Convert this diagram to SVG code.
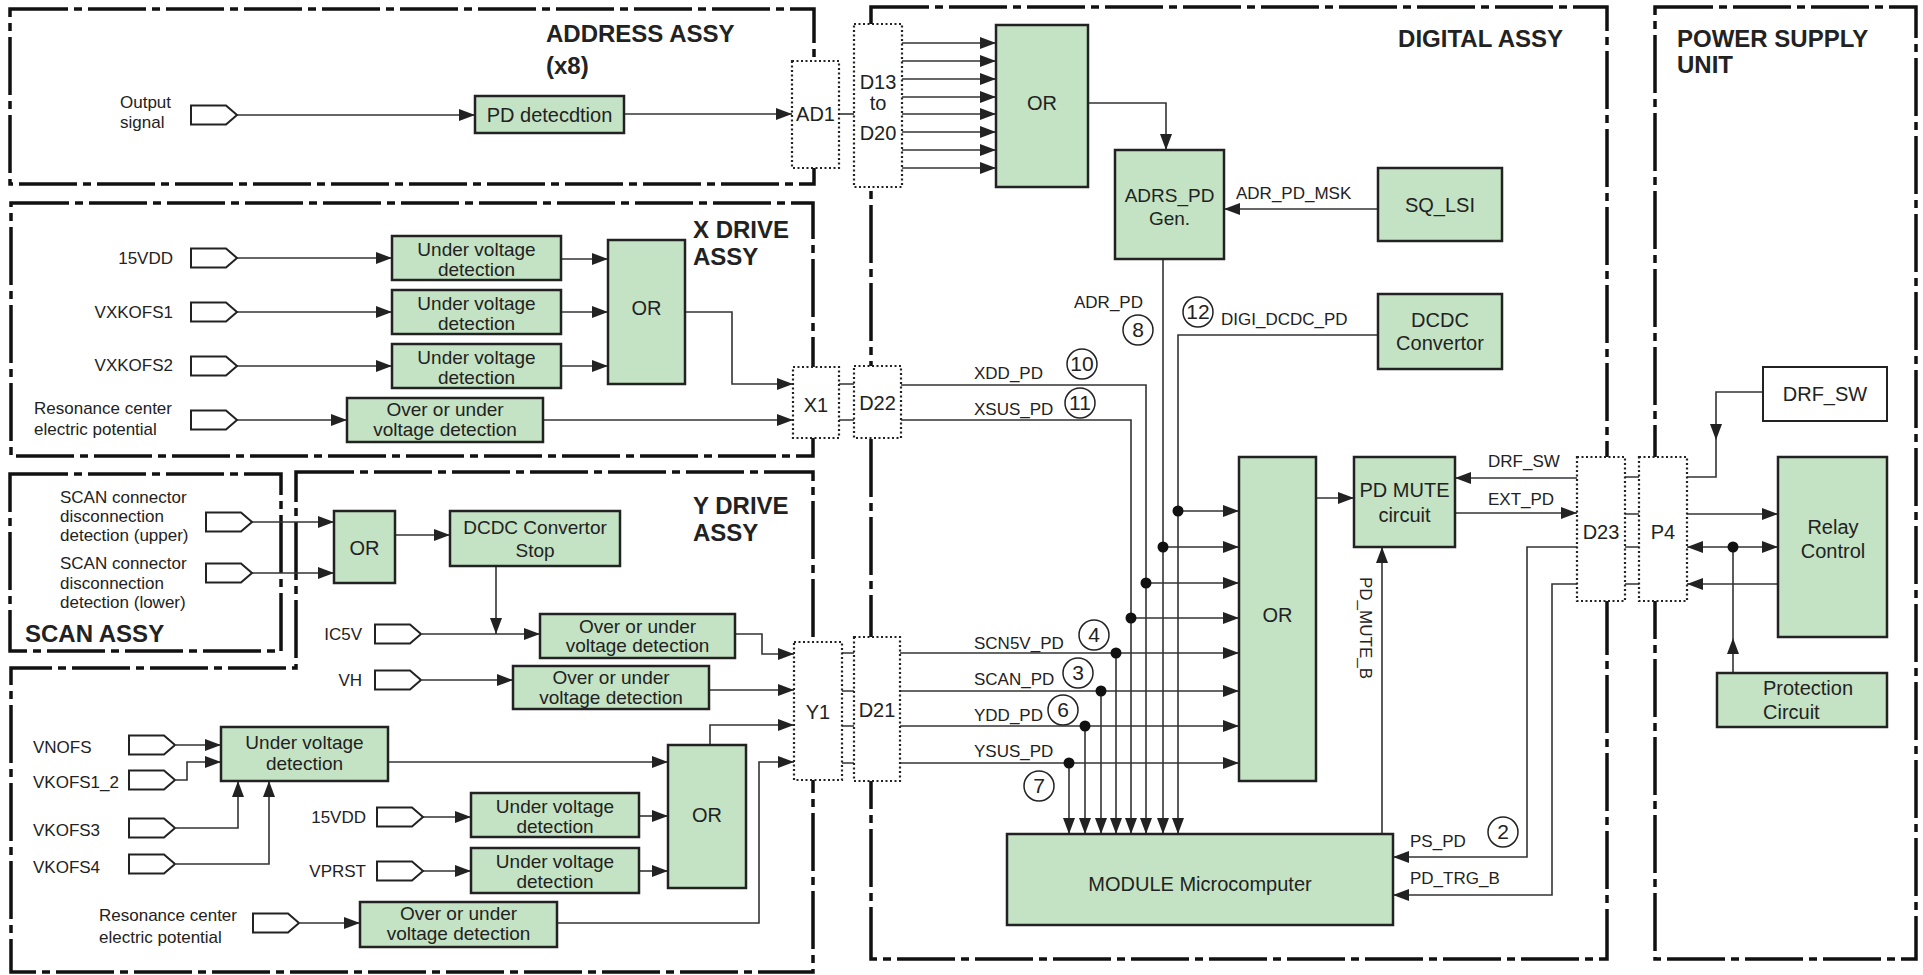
<svg xmlns="http://www.w3.org/2000/svg" xmlns:xlink="http://www.w3.org/1999/xlink" width="1923" height="975" viewBox="0 0 1923 975">
<style>
text{font-family:"Liberation Sans",Arial,sans-serif;fill:#222}
.t{font-size:17px}
.b{font-size:19px;text-anchor:middle}
.c{font-size:20px;text-anchor:middle}
.s{font-size:20px;text-anchor:start}
.e{text-anchor:end}
.h{font-size:24px;font-weight:bold}
.n{font-size:21px;text-anchor:middle}
.box{fill:#c4e2c4;stroke:#222;stroke-width:2.5}
.wbox{fill:#fff;stroke:#222;stroke-width:2}
.frame{fill:none;stroke:#111;stroke-width:3.5;stroke-dasharray:58 6 8 6}
.cb{fill:#fff;stroke:#222;stroke-width:2.2;stroke-dasharray:2 2.5}
.w{fill:none;stroke:#333;stroke-width:1.6}
.a{marker-end:url(#ah)}
.ci{fill:#fff;stroke:#222;stroke-width:1.5}
.dot{fill:#111}
.conn{fill:#fff;stroke:#222;stroke-width:2}
</style>
<defs>
<marker id="ah" markerUnits="userSpaceOnUse" markerWidth="16" markerHeight="12" refX="16" refY="6" orient="auto-start-reverse"><path d="M0,0 L16,6 L0,12 Z" fill="#222"/></marker>
<path id="pc" class="conn" d="M0,-9.5 H35 L46,0 L35,9.5 H0 Z"/>
</defs>
<rect width="1923" height="975" fill="#fff"/>

<g id="frames">
<rect class="frame" x="10" y="9" width="804" height="175"/>
<rect class="frame" x="11" y="203" width="802" height="253"/>
<rect class="frame" x="10" y="474" width="271" height="177"/>
<path class="frame" d="M296,472 H813 V972 H11 V668 H296 Z"/>
<rect class="frame" x="871" y="7" width="736" height="952"/>
<rect class="frame" x="1655" y="7" width="261" height="952"/>
<text class="h" x="546" y="42">ADDRESS ASSY</text>
<text class="h" x="546" y="74">(x8)</text>
<text class="h" x="693" y="238">X DRIVE</text>
<text class="h" x="693" y="265">ASSY</text>
<text class="h" x="693" y="514">Y DRIVE</text>
<text class="h" x="693" y="541">ASSY</text>
<text class="h" x="25" y="642">SCAN ASSY</text>
<text class="h e" x="1563" y="47">DIGITAL ASSY</text>
<text class="h" x="1677" y="47">POWER SUPPLY</text>
<text class="h" x="1677" y="73">UNIT</text>
</g>

<g id="connectors">
<path class="w a" d="M237,115 H475"/>
<path class="w a" d="M624,114 H792"/>
<path class="w" d="M839,114 H854"/>
<path class="w a" d="M902,43 H996"/>
<path class="w a" d="M902,61 H996"/>
<path class="w a" d="M902,79 H996"/>
<path class="w a" d="M902,97 H996"/>
<path class="w a" d="M902,114 H996"/>
<path class="w a" d="M902,132 H996"/>
<path class="w a" d="M902,150 H996"/>
<path class="w a" d="M902,168 H996"/>
<path class="w a" d="M1088,103 H1166 V150"/>
<path class="w a" d="M1378,209 H1224"/>
<path class="w a" d="M237,258 H392"/>
<path class="w a" d="M237,312 H392"/>
<path class="w a" d="M237,366 H392"/>
<path class="w a" d="M237,420 H347"/>
<path class="w a" d="M561,259 H608"/>
<path class="w a" d="M561,312 H608"/>
<path class="w a" d="M561,366 H608"/>
<path class="w a" d="M685,312 H732 V384 H793"/>
<path class="w a" d="M543,420 H793"/>
<path class="w" d="M839,384 H854 M839,420 H854"/>
<path class="w a" d="M252,522 H334"/>
<path class="w a" d="M252,573 H334"/>
<path class="w a" d="M395,535 H450"/>
<path class="w a" d="M496,566 V634"/>
<path class="w a" d="M422,634 H540"/>
<path class="w a" d="M735,634 H762 V654 H794"/>
<path class="w a" d="M422,680 H513"/>
<path class="w a" d="M709,690 H794"/>
<path class="w a" d="M176,745 H221"/>
<path class="w a" d="M176,780 H187 V762 H221"/>
<path class="w a" d="M176,828 H238 V781"/>
<path class="w a" d="M176,864 H269 V781"/>
<path class="w a" d="M388,762 H668"/>
<path class="w a" d="M710,745 V725 H794"/>
<path class="w a" d="M423,817 H471"/>
<path class="w a" d="M639,816 H668"/>
<path class="w a" d="M423,871 H471"/>
<path class="w a" d="M639,871 H668"/>
<path class="w a" d="M300,923 H360"/>
<path class="w a" d="M557,923 H759 V762 H794"/>
<path class="w" d="M842,653 H854 M842,691 H854 M842,726 H854 M842,763 H854"/>
<path class="w a" d="M1378,335 H1178 V834"/>
<path class="w a" d="M1163,259 V834"/>
<path class="w a" d="M901,385 H1146 V834"/>
<path class="w a" d="M901,420 H1131 V834"/>
<path class="w a" d="M1116,653 V834"/>
<path class="w a" d="M1101,691 V834"/>
<path class="w a" d="M1085,726 V834"/>
<path class="w a" d="M1069,763 V834"/>
<path class="w a" d="M1178,511 H1239"/>
<path class="w a" d="M1163,547 H1239"/>
<path class="w a" d="M1146,583 H1239"/>
<path class="w a" d="M1131,618 H1239"/>
<path class="w a" d="M900,653 H1239"/>
<path class="w a" d="M900,691 H1239"/>
<path class="w a" d="M900,726 H1239"/>
<path class="w a" d="M900,763 H1239"/>
<circle class="dot" cx="1178" cy="511" r="5.5"/>
<circle class="dot" cx="1163" cy="547" r="5.5"/>
<circle class="dot" cx="1146" cy="583" r="5.5"/>
<circle class="dot" cx="1131" cy="618" r="5.5"/>
<circle class="dot" cx="1116" cy="653" r="5.5"/>
<circle class="dot" cx="1101" cy="691" r="5.5"/>
<circle class="dot" cx="1085" cy="726" r="5.5"/>
<circle class="dot" cx="1069" cy="763" r="5.5"/>
<path class="w a" d="M1316,498 H1354"/>
<path class="w a" d="M1577,478 H1455"/>
<path class="w a" d="M1455,513 H1577"/>
<path class="w a" d="M1577,547 H1527 V857 H1393"/>
<path class="w a" d="M1577,584 H1552 V895 H1393"/>
<path class="w a" d="M1382,834 V547"/>
<path class="w" d="M1625,477 H1639 M1625,514 H1639 M1625,547 H1639 M1625,584 H1639"/>
<path class="w" d="M1763,392 H1716 V477 H1687"/>
<path d="M1710,424 L1722,424 L1716,440 Z" fill="#222"/>
<path class="w a" d="M1687,514 H1778"/>
<path class="w a" d="M1687,547 H1778" marker-start="url(#ah)"/>
<path class="w a" d="M1778,584 H1687"/>
<path class="w" d="M1733,673 V547"/>
<path d="M1727,654 L1739,654 L1733,638 Z" fill="#222"/>
<circle class="dot" cx="1733" cy="547" r="5.5"/>
<text class="t" x="1236" y="199">ADR_PD_MSK</text>
<text class="t" x="974" y="379">XDD_PD</text>
<text class="t" x="974" y="415">XSUS_PD</text>
<text class="t" x="1074" y="308">ADR_PD</text>
<text class="t" x="1221" y="325">DIGI_DCDC_PD</text>
<text class="t" x="974" y="649">SCN5V_PD</text>
<text class="t" x="974" y="685">SCAN_PD</text>
<text class="t" x="974" y="721">YDD_PD</text>
<text class="t" x="974" y="757">YSUS_PD</text>
<text class="t" x="1488" y="467">DRF_SW</text>
<text class="t" x="1488" y="505">EXT_PD</text>
<text class="t" x="1410" y="847">PS_PD</text>
<text class="t" x="1410" y="884">PD_TRG_B</text>
<text class="t" transform="translate(1360,628) rotate(90)" text-anchor="middle">PD_MUTE_B</text>
<g id="markers-num">
<circle class="ci" cx="1138" cy="330" r="15"/><text class="n" x="1138" y="337">8</text>
<circle class="ci" cx="1198" cy="312" r="15"/><text class="n" x="1198" y="319">12</text>
<circle class="ci" cx="1082" cy="364" r="15"/><text class="n" x="1082" y="371">10</text>
<circle class="ci" cx="1080" cy="403" r="15"/><text class="n" x="1080" y="410">11</text>
<circle class="ci" cx="1094" cy="635" r="15"/><text class="n" x="1094" y="642">4</text>
<circle class="ci" cx="1078" cy="673" r="15"/><text class="n" x="1078" y="680">3</text>
<circle class="ci" cx="1063" cy="710" r="15"/><text class="n" x="1063" y="717">6</text>
<circle class="ci" cx="1039" cy="786" r="15"/><text class="n" x="1039" y="793">7</text>
<circle class="ci" cx="1503" cy="832" r="15"/><text class="n" x="1503" y="839">2</text>
</g>
</g>

<g id="inputs">
<g id="in-output"><text class="t" x="120" y="108">Output</text><text class="t" x="120" y="128">signal</text><use xlink:href="#pc" x="191" y="115"/></g>
<g id="in-15vdd-x"><text class="t e" x="173" y="264">15VDD</text><use xlink:href="#pc" x="191" y="258"/></g>
<g id="in-vxkofs1"><text class="t e" x="173" y="318">VXKOFS1</text><use xlink:href="#pc" x="191" y="312"/></g>
<g id="in-vxkofs2"><text class="t e" x="173" y="371">VXKOFS2</text><use xlink:href="#pc" x="191" y="366"/></g>
<g id="in-res-x"><text class="t" x="34" y="414">Resonance center</text><text class="t" x="34" y="435">electric potential</text><use xlink:href="#pc" x="191" y="420"/></g>
<g id="in-scan-up"><text class="t" x="60" y="503">SCAN connector</text><text class="t" x="60" y="522">disconnection</text><text class="t" x="60" y="541">detection (upper)</text><use xlink:href="#pc" x="206" y="522"/></g>
<g id="in-scan-low"><text class="t" x="60" y="569">SCAN connector</text><text class="t" x="60" y="589">disconnection</text><text class="t" x="60" y="608">detection (lower)</text><use xlink:href="#pc" x="206" y="573"/></g>
<g id="in-ic5v"><text class="t e" x="362" y="640">IC5V</text><use xlink:href="#pc" x="375" y="634"/></g>
<g id="in-vh"><text class="t e" x="362" y="686">VH</text><use xlink:href="#pc" x="375" y="680"/></g>
<g id="in-vnofs"><text class="t" x="33" y="753">VNOFS</text><use xlink:href="#pc" x="129" y="745"/></g>
<g id="in-vkofs12"><text class="t" x="33" y="788">VKOFS1_2</text><use xlink:href="#pc" x="129" y="780"/></g>
<g id="in-vkofs3"><text class="t" x="33" y="836">VKOFS3</text><use xlink:href="#pc" x="129" y="828"/></g>
<g id="in-vkofs4"><text class="t" x="33" y="873">VKOFS4</text><use xlink:href="#pc" x="129" y="864"/></g>
<g id="in-15vdd-y"><text class="t e" x="366" y="823">15VDD</text><use xlink:href="#pc" x="377" y="817"/></g>
<g id="in-vprst"><text class="t e" x="366" y="877">VPRST</text><use xlink:href="#pc" x="377" y="871"/></g>
<g id="in-res-y"><text class="t" x="99" y="921">Resonance center</text><text class="t" x="99" y="943">electric potential</text><use xlink:href="#pc" x="253" y="923"/></g>
</g>

<g id="pd-det"><rect class="box" x="475" y="96" width="149" height="37"/><text class="c" x="549.5" y="122">PD detecdtion</text></g>
<g id="ad1"><rect class="cb" x="792" y="61" width="47" height="107"/><text class="c" x="815.5" y="121">AD1</text></g>
<g id="d13"><rect class="cb" x="854" y="24" width="48" height="163"/><text class="c" x="878" y="89">D13</text><text class="c" x="878" y="110">to</text><text class="c" x="878" y="140">D20</text></g>
<g id="or-adr"><rect class="box" x="996" y="25" width="92" height="162"/><text class="c" x="1042" y="110">OR</text></g>
<g id="adrs-pd"><rect class="box" x="1115" y="150" width="109" height="109"/><text class="b" x="1169.5" y="202">ADRS_PD</text><text class="b" x="1169.5" y="225">Gen.</text></g>
<g id="sq-lsi"><rect class="box" x="1378" y="168" width="124" height="73"/><text class="c" x="1440" y="212">SQ_LSI</text></g>
<g id="dcdc"><rect class="box" x="1378" y="294" width="124" height="75"/><text class="c" x="1440" y="327">DCDC</text><text class="c" x="1440" y="350">Convertor</text></g>

<g id="uv-x1"><rect class="box" x="392" y="236" width="169" height="44"/><text class="b" x="476.5" y="256">Under voltage</text><text class="b" x="476.5" y="276">detection</text></g>
<g id="uv-x2"><rect class="box" x="392" y="290" width="169" height="44"/><text class="b" x="476.5" y="310">Under voltage</text><text class="b" x="476.5" y="330">detection</text></g>
<g id="uv-x3"><rect class="box" x="392" y="344" width="169" height="44"/><text class="b" x="476.5" y="364">Under voltage</text><text class="b" x="476.5" y="384">detection</text></g>
<g id="or-x"><rect class="box" x="608" y="240" width="77" height="144"/><text class="c" x="646.5" y="315">OR</text></g>
<g id="ov-x"><rect class="box" x="347" y="398" width="196" height="44"/><text class="b" x="445" y="416">Over or under</text><text class="b" x="445" y="436">voltage detection</text></g>
<g id="x1"><rect class="cb" x="793" y="367" width="46" height="71"/><text class="c" x="816" y="412">X1</text></g>
<g id="d22"><rect class="cb" x="854" y="366" width="47" height="72"/><text class="c" x="877.5" y="410">D22</text></g>

<g id="or-scan"><rect class="box" x="334" y="511" width="61" height="72"/><text class="c" x="364.5" y="555">OR</text></g>
<g id="dcdc-stop"><rect class="box" x="450" y="511" width="170" height="55"/><text class="b" x="535" y="534">DCDC Convertor</text><text class="b" x="535" y="557">Stop</text></g>
<g id="ov-ic5v"><rect class="box" x="540" y="614" width="195" height="44"/><text class="b" x="637.5" y="633">Over or under</text><text class="b" x="637.5" y="652">voltage detection</text></g>
<g id="ov-vh"><rect class="box" x="513" y="666" width="196" height="43"/><text class="b" x="611" y="684">Over or under</text><text class="b" x="611" y="704">voltage detection</text></g>
<g id="uv-y"><rect class="box" x="221" y="727" width="167" height="54"/><text class="b" x="304.5" y="749">Under voltage</text><text class="b" x="304.5" y="770">detection</text></g>
<g id="uv-y15"><rect class="box" x="471" y="793" width="168" height="44"/><text class="b" x="555" y="813">Under voltage</text><text class="b" x="555" y="833">detection</text></g>
<g id="uv-vprst"><rect class="box" x="471" y="848" width="168" height="45"/><text class="b" x="555" y="868">Under voltage</text><text class="b" x="555" y="888">detection</text></g>
<g id="or-y"><rect class="box" x="668" y="745" width="78" height="143"/><text class="c" x="707" y="822">OR</text></g>
<g id="ov-res-y"><rect class="box" x="360" y="902" width="197" height="45"/><text class="b" x="458.5" y="920">Over or under</text><text class="b" x="458.5" y="940">voltage detection</text></g>
<g id="y1"><rect class="cb" x="794" y="642" width="48" height="138"/><text class="c" x="818" y="719">Y1</text></g>
<g id="d21"><rect class="cb" x="854" y="637" width="46" height="144"/><text class="c" x="877" y="717">D21</text></g>

<g id="or-main"><rect class="box" x="1239" y="457" width="77" height="324"/><text class="c" x="1277.5" y="622">OR</text></g>
<g id="pd-mute"><rect class="box" x="1354" y="457" width="101" height="90"/><text class="c" x="1404.5" y="497">PD MUTE</text><text class="c" x="1404.5" y="522">circuit</text></g>
<g id="module"><rect class="box" x="1007" y="834" width="386" height="91"/><text class="c" x="1200" y="891">MODULE Microcomputer</text></g>
<g id="d23"><rect class="cb" x="1577" y="457" width="48" height="144"/><text class="c" x="1601" y="539">D23</text></g>
<g id="p4"><rect class="cb" x="1639" y="457" width="48" height="144"/><text class="c" x="1663" y="539">P4</text></g>
<g id="drf-sw"><rect class="wbox" x="1763" y="367" width="124" height="54"/><text class="c" x="1825" y="401">DRF_SW</text></g>
<g id="relay"><rect class="box" x="1778" y="457" width="109" height="180"/><text class="c" x="1833" y="534">Relay</text><text class="c" x="1833" y="558">Control</text></g>
<g id="protection"><rect class="box" x="1717" y="673" width="170" height="54"/><text class="s" x="1763" y="695">Protection</text><text class="s" x="1763" y="719">Circuit</text></g>
</svg>
